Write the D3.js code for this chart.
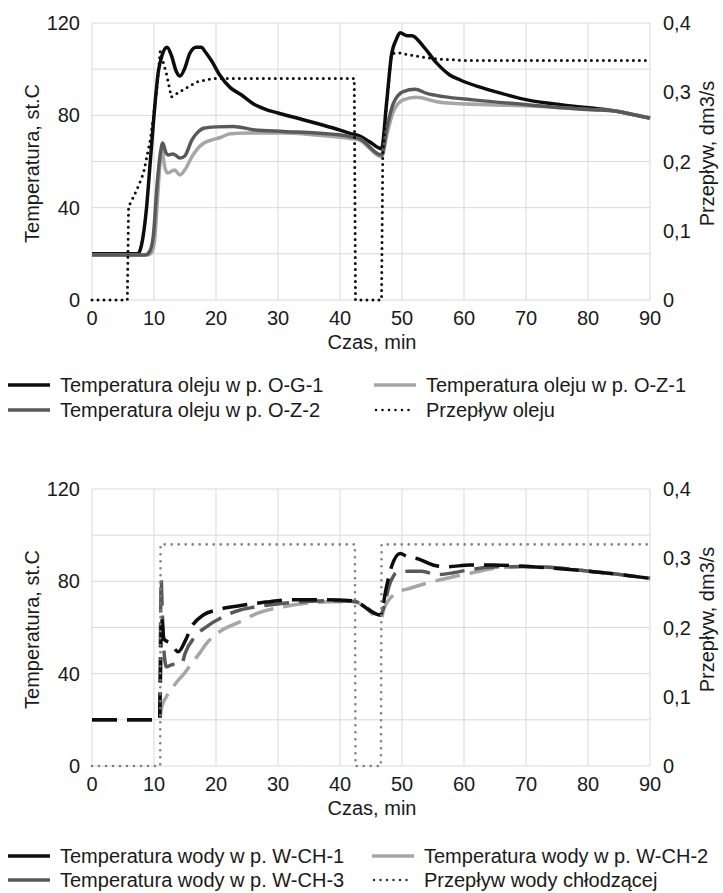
<!DOCTYPE html>
<html>
<head>
<meta charset="utf-8">
<script src="https://cdn.jsdelivr.net/npm/d3@7"></script>
<style>
  body { margin: 0; background: #fff; }
  svg { display: block; font-family: "Liberation Sans", Arial, sans-serif; }
</style>
</head>
<body>
<svg id="chart" width="723" height="893"></svg>
<script>
// ---- data: [minute, value] ----
const xTicks = [0, 10, 20, 30, 40, 50, 60, 70, 80, 90];
const tempTicks = [0, 40, 80, 120];
const flowTicks = [0, 0.1, 0.2, 0.3, 0.4];

// top panel: oil (temperature st.C, flow dm3/s)
const oilOG1 = [[0,20],[7.4,20],[8,24],[8.8,40],[9.4,60],[10,80],[10.7,99],[11.3,106],[12.1,109.5],[12.8,106],[13.6,99],[14.2,97],[14.9,100],[15.8,107],[16.8,109.5],[17.6,109.5],[18.4,107],[19.2,104],[20.6,97.5],[22.3,92],[24,89],[26,85],[28.2,82.4],[30,81],[33.5,78.5],[38.9,74.5],[41.6,72.2],[43.2,71],[44.8,68.5],[46.7,65.5],[47.5,85],[48.3,106],[49.1,113],[49.7,115.8],[50.8,114.5],[51.6,114.5],[53.4,110],[55.6,102.6],[57.7,97.5],[59.4,95.3],[62.6,92.2],[65.9,89.6],[70.2,86.7],[73.4,85.3],[77.7,83.9],[80.9,83.1],[84.1,82],[87,80.5],[90,78.8]];
const oilOZ1 = [[0,19.5],[9,19.5],[9.6,20.5],[10.1,26],[10.6,45],[11,60],[11.3,65],[11.7,58],[12.2,55],[13.3,56.3],[14.2,54.2],[15,56.5],[16.1,62],[17,65.5],[18,67.9],[19.5,69.5],[20.6,70.3],[22.3,72],[25,72.3],[30.9,72.3],[36,71.5],[41.6,70],[43.2,69.2],[46.7,62],[47.6,72],[48.6,81.6],[50.2,86.7],[52.3,87.8],[55.6,85.9],[58,85.2],[70.2,84.1],[80.9,82.4],[84,82],[87,80.5],[90,78.8]];
const oilOZ2 = [[0,19.5],[8.6,19.5],[9.3,21],[9.9,28],[10.5,50],[11,63],[11.4,68],[11.9,64],[12.3,62.8],[13.1,63.3],[14.2,61.5],[15,62.5],[16.1,69.3],[17,72.5],[18,74.4],[20,75],[22.8,75.2],[26,73.8],[30.9,73],[36.2,72.3],[41.6,70.8],[43.2,69.8],[46.7,62.8],[47.6,75],[48.6,85.2],[50.2,90.3],[52.1,91.3],[54,89.5],[56.7,88.1],[61.5,86.7],[70.2,84.6],[80.9,82.4],[84,82],[87,80.5],[90,78.8]];
const oilFlow = [[0,0],[5.7,0],[5.9,0.135],[6.7,0.149],[7.5,0.165],[8.3,0.183],[9.4,0.231],[10.4,0.299],[11,0.359],[12,0.327],[12.8,0.293],[14.2,0.301],[16.9,0.315],[19,0.319],[20,0.32],[42.3,0.32],[42.5,0],[46.7,0],[46.9,0.21],[47.5,0.28],[48.3,0.356],[49.4,0.357],[52.4,0.352],[55.6,0.348],[60,0.346],[90,0.346]];

// bottom panel: cooling water
const waterCH1 = [[0,20],[10.9,20],[11.05,40],[11.2,65],[11.4,60],[11.6,55],[12.6,53.3],[13.9,49.5],[15,54],[16,60],[18,65.5],[20,67.5],[24,69.5],[28,71],[32,72],[38,72],[42.5,71.5],[43.2,70.4],[46.5,65.4],[47.5,77.7],[48.3,86.3],[49.7,92.1],[50.8,90.7],[52.4,89.9],[55,87.1],[57.2,86.3],[61,87.1],[64.7,87.1],[70.2,86.4],[80.9,84.2],[90,81.3]];
const waterCH2 = [[0,20],[10.9,20],[11.2,25],[12,30],[13.1,34.4],[13.7,36.5],[14.7,39.5],[16.1,44.5],[17.4,49],[18.5,53.2],[20.6,58.2],[23.9,62.5],[26,65.4],[30.9,69],[38.9,71.2],[42.5,71],[43.2,70.2],[46.7,64],[47,67.6],[49.1,74.9],[51.3,77],[54,79.2],[58.3,82],[61,83.5],[64.7,85.6],[70.2,86.4],[80.9,84.2],[90,81.3]];
const waterCH3 = [[0,20],[10.9,20],[11.05,60],[11.15,81],[11.3,70],[11.6,50],[12,43],[12.8,43.8],[14.5,44.5],[15,48.7],[16.6,56],[18.5,60.4],[21.2,64.7],[23.9,67.6],[25.5,68.5],[30.9,70.5],[38.9,71.6],[42.5,71.3],[43.2,70.5],[46.5,65.4],[48.1,79.4],[49.1,83.7],[51.3,84.4],[53.2,84.4],[55.6,82.9],[58.3,83.7],[61,85.1],[64.7,86.2],[70.2,86.4],[80.9,84.2],[90,81.3]];
const waterFlow = [[0,0],[11,0],[11.05,0.32],[42.4,0.32],[42.5,0],[46.6,0],[46.7,0.32],[90,0.32]];

const BLACK = '#0d0d0d', DARK = '#595959', LIGHT = '#a6a6a6', FLOWGRAY = '#7f7f7f';
const fmt = d => String(d).replace('.', ',');

const svg = d3.select('#chart');

function drawPanel(top, cfg) {
  const left = 92, right = 650, h = 277;
  const x = d3.scaleLinear().domain([0, 90]).range([left, right]);
  const yT = d3.scaleLinear().domain([0, 120]).range([top + h, top]);
  const yF = d3.scaleLinear().domain([0, 0.4]).range([top + h, top]);
  const g = svg.append('g');

  // grid
  g.append('g').selectAll('line').data(d3.range(0, 121, 20)).enter().append('line')
    .attr('x1', left).attr('x2', right)
    .attr('y1', d => yT(d)).attr('y2', d => yT(d))
    .attr('stroke', '#d9d9d9').attr('stroke-width', 1);
  g.append('g').selectAll('line').data(xTicks).enter().append('line')
    .attr('x1', d => x(d)).attr('x2', d => x(d))
    .attr('y1', top).attr('y2', top + h)
    .attr('stroke', '#d9d9d9').attr('stroke-width', 1);

  // tick labels
  const tickStyle = sel => sel.style('font-size', '20px').attr('fill', '#1a1a1a');
  g.append('g').selectAll('text').data(tempTicks).enter().append('text')
    .attr('x', 80).attr('y', d => yT(d)).attr('dy', '0.35em')
    .attr('text-anchor', 'end').text(d => d).call(tickStyle);
  g.append('g').selectAll('text').data(flowTicks).enter().append('text')
    .attr('x', 663).attr('y', d => yF(d)).attr('dy', '0.35em')
    .attr('text-anchor', 'start').text(fmt).call(tickStyle);
  g.append('g').selectAll('text').data(xTicks).enter().append('text')
    .attr('x', d => x(d)).attr('y', top + h + 18).attr('dy', '0.35em')
    .attr('text-anchor', 'middle').text(d => d).call(tickStyle);

  g.append('text').attr('x', 372).attr('y', top + h + 42).attr('dy', '0.35em')
    .attr('text-anchor', 'middle').text('Czas, min').call(tickStyle);
  g.append('text').attr('transform', `translate(32,${top + h / 2 + 2}) rotate(-90)`)
    .attr('dy', '0.35em').attr('text-anchor', 'middle').text('Temperatura, st.C').call(tickStyle);
  g.append('text').attr('transform', `translate(707,${top + h / 2 - 8}) rotate(-90)`)
    .attr('dy', '0.35em').attr('text-anchor', 'middle').text('Przepływ, dm3/s').call(tickStyle);

  const lineT = d3.line().x(d => x(d[0])).y(d => yT(d[1])).curve(d3.curveMonotoneX);
  const lineF = d3.line().x(d => x(d[0])).y(d => yF(d[1]));

  cfg.series.forEach(s => {
    g.append('path').datum(s.data)
      .attr('d', s.flow ? lineF : lineT)
      .attr('fill', 'none')
      .attr('stroke', s.color)
      .attr('stroke-width', s.width)
      .attr('stroke-linecap', s.flow ? 'round' : 'butt')
      .attr('stroke-linejoin', 'round')
      .attr('stroke-dasharray', s.dash || null);
  });

  // legend
  const lg = g.append('g');
  cfg.legend.forEach(item => {
    const ly = top + h + item.row;
    lg.append('line')
      .attr('x1', item.x).attr('x2', item.x + item.len)
      .attr('y1', ly).attr('y2', ly)
      .attr('stroke', item.color)
      .attr('stroke-width', item.dots ? 2.6 : 3.5)
      .attr('stroke-linecap', item.dots ? 'round' : 'butt')
      .attr('stroke-dasharray', item.dots ? '0,6.5' : null);
    lg.append('text')
      .attr('x', item.x + item.len + item.gap).attr('y', ly).attr('dy', '0.35em')
      .style('font-size', '20px').attr('fill', '#1a1a1a')
      .text(item.label);
  });
}

drawPanel(23, {
  series: [
    { data: oilOG1, color: BLACK, width: 3.5 },
    { data: oilOZ1, color: LIGHT, width: 3.5 },
    { data: oilOZ2, color: DARK, width: 3.5 },
    { data: oilFlow, color: BLACK, width: 3, flow: true, dash: '0,6' }
  ],
  legend: [
    { label: 'Temperatura oleju w p. O-G-1', color: BLACK, x: 8, len: 42, gap: 10, row: 85 },
    { label: 'Temperatura oleju w p. O-Z-1', color: LIGHT, x: 374, len: 42, gap: 10, row: 85 },
    { label: 'Temperatura oleju w p. O-Z-2', color: DARK, x: 8, len: 42, gap: 10, row: 110 },
    { label: 'Przepływ oleju', color: BLACK, x: 376, len: 38, gap: 12, row: 110, dots: true }
  ]
});

drawPanel(489, {
  series: [
    { data: waterCH2, color: LIGHT, width: 3.5, dash: '25,10' },
    { data: waterCH3, color: DARK, width: 3.5, dash: '25,10' },
    { data: waterCH1, color: BLACK, width: 3.5, dash: '25,10' },
    { data: waterFlow, color: FLOWGRAY, width: 2.6, flow: true, dash: '0,7' }
  ],
  legend: [
    { label: 'Temperatura wody w p. W-CH-1', color: BLACK, x: 8, len: 42, gap: 10, row: 90 },
    { label: 'Temperatura wody w p. W-CH-2', color: LIGHT, x: 372, len: 42, gap: 10, row: 90 },
    { label: 'Temperatura wody w p. W-CH-3', color: DARK, x: 8, len: 42, gap: 10, row: 114 },
    { label: 'Przepływ wody chłodzącej', color: '#333', x: 374, len: 38, gap: 12, row: 114, dots: true }
  ]
});
</script>
</body>
</html>
